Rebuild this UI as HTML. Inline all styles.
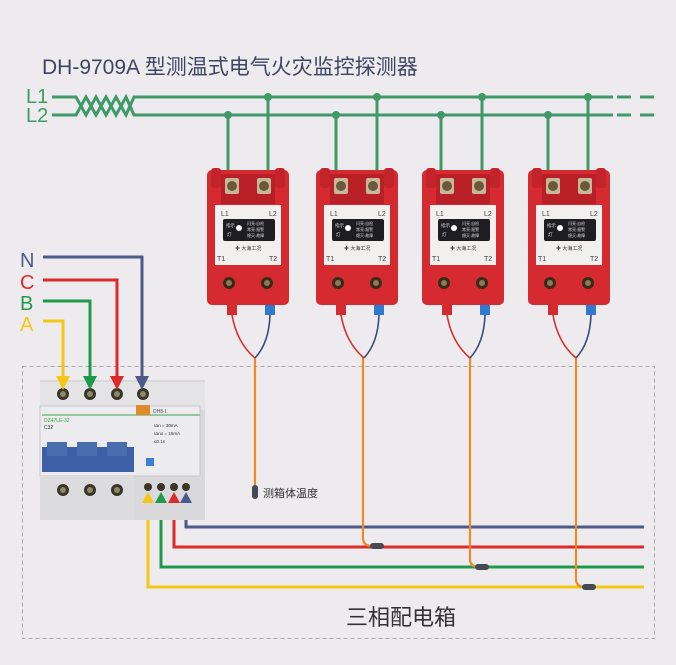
<!DOCTYPE html>
<html><head><meta charset="utf-8"><style>
html,body{margin:0;padding:0;background:#edebee;}
svg{display:block;font-family:"Liberation Sans","Noto Sans CJK SC",sans-serif;}
</style></head><body>
<svg width="676" height="665" viewBox="0 0 676 665" xmlns="http://www.w3.org/2000/svg">
<defs>
<g id="mod">
  <!-- local origin: module left x, top y=168; width 82 -->
  <rect x="0" y="2" width="82" height="135" rx="5" fill="#d42a30"/>
  <rect x="4" y="0" width="10" height="20" rx="3" fill="#c3232a"/>
  <rect x="68" y="0" width="10" height="20" rx="3" fill="#c3232a"/>
  <rect x="14" y="6" width="54" height="30" fill="#b81f27"/>
  <rect x="18" y="10" width="14" height="16" rx="2" fill="#c8b89a"/>
  <rect x="50" y="10" width="14" height="16" rx="2" fill="#c8b89a"/>
  <circle cx="25" cy="18" r="5" fill="#6b5a3a"/>
  <circle cx="57" cy="18" r="5" fill="#6b5a3a"/>
  <rect x="8" y="37" width="66" height="60" fill="#f1f0ee"/>
  <text x="14" y="48" font-size="7" fill="#444">L1</text>
  <text x="62" y="48" font-size="7" fill="#444">L2</text>
  <rect x="16" y="51" width="52" height="22" rx="2" fill="#1d1d22"/>
  <circle cx="32" cy="60" r="3" fill="#fff"/>
  <text x="19" y="59" font-size="4.5" fill="#ddd">指示</text>
  <text x="20" y="68" font-size="4.5" fill="#ddd">灯</text>
  <text x="40" y="57" font-size="4" fill="#ddd">闪亮:自检</text>
  <text x="40" y="63" font-size="4" fill="#ddd">常亮:报警</text>
  <text x="40" y="69" font-size="4" fill="#ddd">熄灭:故障</text>
  <text x="28" y="82" font-size="5" fill="#333">✚ 大海工况</text>
  <text x="10" y="93" font-size="7" fill="#444">T1</text>
  <text x="62" y="93" font-size="7" fill="#444">T2</text>
  <circle cx="22" cy="115" r="6" fill="#3a2a1a"/>
  <circle cx="60" cy="115" r="6" fill="#3a2a1a"/>
  <circle cx="22" cy="115" r="3" fill="#8a7a55"/>
  <circle cx="60" cy="115" r="3" fill="#8a7a55"/>
  <rect x="20" y="137" width="10" height="10" fill="#d42a30"/>
  <rect x="58" y="137" width="10" height="10" fill="#2f7ad0"/>
  <path d="M25 147 Q30 175 48 190" stroke="#d8302e" stroke-width="1.6" fill="none"/>
  <path d="M63 147 Q62 175 48 190" stroke="#3c4a78" stroke-width="1.6" fill="none"/>
</g>
</defs>

<text x="42" y="74" font-size="21" fill="#3f4461">DH-9709A 型测温式电气火灾监控探测器</text>

<!-- L1/L2 -->
<text x="26" y="103" font-size="20" fill="#3f9968">L1</text>
<text x="26" y="122" font-size="20" fill="#3f9968">L2</text>
<g stroke="#3f9968" stroke-width="3" fill="none">
  <path d="M52 97 H76 L86 115 L96 97 L106 115 L116 97 L126 115 L134 97 H613"/>
  <path d="M52 115 H76 L86 97 L96 115 L106 97 L116 115 L126 97 L134 115 H613"/>
  <path d="M617 97 H631 M640 97 H654 M617 115 H631 M640 115 H654"/>
  <path d="M228 115 V185 M268 97 V185 M336 115 V185 M377 97 V185 M441 115 V185 M482 97 V185 M548 115 V185 M588 97 V185"/>
</g>
<g fill="#3f9968">
  <circle cx="228" cy="115" r="4"/><circle cx="268" cy="97" r="4"/>
  <circle cx="336" cy="115" r="4"/><circle cx="377" cy="97" r="4"/>
  <circle cx="441" cy="115" r="4"/><circle cx="482" cy="97" r="4"/>
  <circle cx="548" cy="115" r="4"/><circle cx="588" cy="97" r="4"/>
</g>

<!-- dashed box -->
<rect x="22.5" y="366.5" width="632" height="272" fill="none" stroke="#aaa" stroke-dasharray="4 3"/>
<text x="346" y="625" font-size="22" fill="#333">三相配电箱</text>

<!-- bottom wires -->
<g fill="none" stroke-width="3">
  <path d="M186 500 V527 H644" stroke="#4b5a88"/>
  <path d="M174 500 V547 H644" stroke="#dd2a2a"/>
  <path d="M161 500 V567 H644" stroke="#1f9a4a"/>
  <path d="M148 500 V587 H644" stroke="#f3c713"/>
</g>
<!-- orange sensor wires -->
<g fill="none" stroke="#ee8a25" stroke-width="2.2">
  <path d="M255 358 V488"/>
  <path d="M363 358 V538 Q363 546 372 546"/>
  <path d="M470 358 V559 Q470 567 479 567"/>
  <path d="M576 358 V579 Q576 587 585 587"/>
</g>
<g fill="#454a55">
  <rect x="252" y="485" width="6" height="14" rx="3"/>
  <rect x="370" y="543" width="14" height="6" rx="3"/>
  <rect x="475" y="564" width="14" height="6" rx="3"/>
  <rect x="582" y="584" width="14" height="6" rx="3"/>
</g>
<text x="263" y="497" font-size="11" fill="#333">测箱体温度</text>

<use href="#mod" x="207" y="168"/>
<use href="#mod" x="316" y="168"/>
<use href="#mod" x="422" y="168"/>
<use href="#mod" x="528" y="168"/>

<!-- breaker -->
<rect x="40" y="380" width="165" height="140" fill="#d9d9db"/>
<rect x="40" y="382" width="165" height="28" fill="#e4e4e6"/>
<rect x="40" y="406" width="160" height="70" fill="#ececee" stroke="#c8c8ca"/>
<line x1="42" y1="415" x2="200" y2="415" stroke="#3fa050" stroke-width="1"/>
<rect x="136" y="405" width="14" height="10" fill="#e08a2a"/>
<text x="153" y="413" font-size="5" fill="#555">DH8-L</text>
<text x="44" y="422" font-size="5" fill="#3a3">DZ47LE-32</text>
<text x="44" y="429" font-size="5" fill="#333">C32</text>
<text x="154" y="427" font-size="4.5" fill="#333">IΔn = 30mA</text>
<text x="154" y="435" font-size="4.5" fill="#333">IΔno = 15mA</text>
<text x="154" y="443" font-size="4.5" fill="#333">≤0.1s</text>
<rect x="42" y="447" width="92" height="25" fill="#3c5fa5"/>
<rect x="47" y="442" width="20" height="14" fill="#4a6db0"/>
<rect x="77" y="442" width="20" height="14" fill="#4a6db0"/>
<rect x="107" y="442" width="20" height="14" fill="#4a6db0"/>
<rect x="146" y="458" width="8" height="8" fill="#3a7fd0"/>
<rect x="40" y="476" width="94" height="44" fill="#dcdcde"/>
<g fill="#3a3528">
  <circle cx="63" cy="394" r="6"/><circle cx="90" cy="394" r="6"/><circle cx="117" cy="394" r="6"/><circle cx="143" cy="394" r="6"/>
  <circle cx="63" cy="490" r="6"/><circle cx="90" cy="490" r="6"/><circle cx="117" cy="490" r="6"/>
  <circle cx="148" cy="487" r="4"/><circle cx="161" cy="487" r="4"/><circle cx="174" cy="487" r="4"/><circle cx="186" cy="487" r="4"/>
</g>
<g fill="#8a8a6a">
  <circle cx="63" cy="394" r="3"/><circle cx="90" cy="394" r="3"/><circle cx="117" cy="394" r="3"/><circle cx="143" cy="394" r="3"/>
  <circle cx="63" cy="490" r="3"/><circle cx="90" cy="490" r="3"/><circle cx="117" cy="490" r="3"/>
</g>
<!-- bottom arrows -->
<polygon points="142,503 154,503 148,492" fill="#f3c713"/>
<polygon points="155,503 167,503 161,492" fill="#1f9a4a"/>
<polygon points="168,503 180,503 174,492" fill="#dd2a2a"/>
<polygon points="180,503 192,503 186,492" fill="#4b5a88"/>

<!-- input wires -->
<text x="20" y="267" font-size="20" fill="#4b5a88">N</text>
<text x="20" y="289" font-size="20" fill="#dd2a2a">C</text>
<text x="20" y="310" font-size="20" fill="#1f9a4a">B</text>
<text x="20" y="331" font-size="20" fill="#f3c713">A</text>
<g fill="none" stroke-width="3">
  <path d="M43 257 H142 V378" stroke="#4b5a88"/>
  <path d="M43 280 H117 V378" stroke="#dd2a2a"/>
  <path d="M43 301 H90 V378" stroke="#1f9a4a"/>
  <path d="M43 321 H63 V378" stroke="#f3c713"/>
</g>
<polygon points="56,376 70,376 63,390" fill="#f3c713"/>
<polygon points="83,376 97,376 90,390" fill="#1f9a4a"/>
<polygon points="110,376 124,376 117,390" fill="#dd2a2a"/>
<polygon points="135,376 149,376 142,390" fill="#4b5a88"/>
</svg>
</body></html>
